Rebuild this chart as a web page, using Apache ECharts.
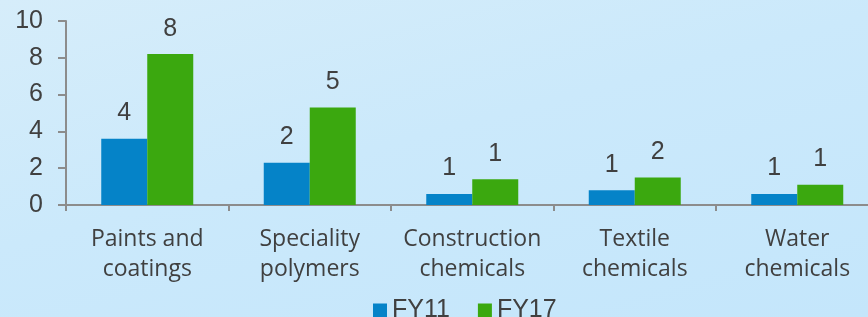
<!DOCTYPE html>
<html>
<head>
<meta charset="utf-8">
<script src="https://cdn.jsdelivr.net/npm/echarts@6/dist/echarts.min.js"></script>
<style>
  html, body { margin: 0; padding: 0; }
  body { background: linear-gradient(165deg, #d6edfa 0%, #cbe9fb 45%, #c4e6fb 100%); }
  #chart { width: 868px; height: 317px; }
</style>
</head>
<body>
<div id="chart"></div>
<script>
// categories and values
const categories = ['Paints and\ncoatings', 'Speciality\npolymers', 'Construction\nchemicals', 'Textile\nchemicals', 'Water\nchemicals']
const fy11 = [3.6, 2.3, 0.6, 0.8, 0.6]
const fy17 = [8.2, 5.3, 1.4, 1.5, 1.1]
const yTicks = [0, 2, 4, 6, 8, 10]

const textColor = '#404040'
const axisColor = '#8c8c8c'

const chart = echarts.init(document.getElementById('chart'))

// 柱子标签：四舍五入显示
const barLabel = {
  show: true,
  position: 'top',
  distance: 13,
  color: textColor,
  fontSize: 25,
  fontFamily: 'Liberation Sans',
  formatter: p => Math.round(p.value),
}

chart.setOption({
  animation: false,
  legend: {
    left: 368,
    top: 293,
    itemWidth: 14,
    itemHeight: 14,
    itemGap: 28,
    icon: 'rect',
    textStyle: { color: textColor, fontSize: 25, fontFamily: 'Liberation Sans' },
    data: ['FY11', 'FY17'],
  },
  grid: { left: 66, top: 21, width: 812.5, height: 184, outerBoundsMode: 'none' },
  xAxis: {
    type: 'category',
    data: categories,
    boundaryGap: true,
    axisLine: { lineStyle: { color: axisColor, width: 2 } },
    axisTick: { show: true, length: 6, lineStyle: { color: axisColor, width: 2 } },
    axisLabel: {
      color: textColor,
      fontSize: 23,
      lineHeight: 30,
      margin: 19,
      fontFamily: 'Open Sans',
      interval: 0,
    },
  },
  yAxis: {
    type: 'value',
    min: yTicks[0],
    max: yTicks[yTicks.length - 1],
    interval: 2,
    splitLine: { show: false },
    axisLine: { show: true, lineStyle: { color: axisColor, width: 2 } },
    axisTick: { show: true, length: 8, lineStyle: { color: axisColor, width: 2 } },
    axisLabel: { color: textColor, fontSize: 25, margin: 23, fontFamily: 'Liberation Sans' },
  },
  series: [
    {
      name: 'FY11',
      type: 'bar',
      data: fy11,
      barWidth: 46,
      barGap: '0%',
      itemStyle: { color: '#0583c8' },
      label: barLabel,
    },
    {
      name: 'FY17',
      type: 'bar',
      data: fy17,
      barWidth: 46,
      barGap: '0%',
      itemStyle: { color: '#3ba80f' },
      label: barLabel,
    },
  ],
})
</script>
</body>
</html>
